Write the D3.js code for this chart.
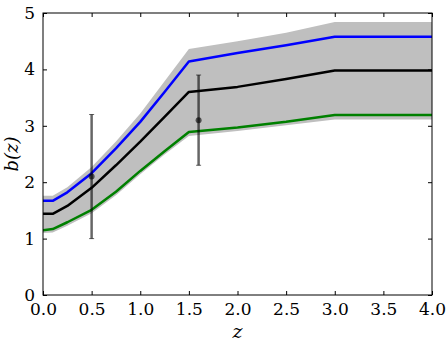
<!DOCTYPE html>
<html>
<head>
<meta charset="utf-8">
<script src="https://cdn.jsdelivr.net/npm/d3@7"></script>
<style>
  body { margin: 0; background: #fff; }
</style>
</head>
<body>
<div id="chart"></div>
<script>
// redshift samples
const zs = [0, 0.1, 0.25, 0.5, 0.75, 1.0, 1.25, 1.5, 2.0, 2.5, 3.0, 4.0];
const bMid = [1.44, 1.44, 1.58, 1.90, 2.30, 2.72, 3.16, 3.60, 3.69, 3.83, 3.98, 3.98];
const bHigh = [1.67, 1.67, 1.82, 2.16, 2.60, 3.07, 3.60, 4.14, 4.29, 4.43, 4.58, 4.58];
const bLow = [1.15, 1.17, 1.29, 1.51, 1.83, 2.20, 2.55, 2.89, 2.97, 3.07, 3.19, 3.19];
const bandTop = [1.76, 1.76, 1.91, 2.27, 2.72, 3.22, 3.79, 4.36, 4.50, 4.65, 4.84, 4.84];
const bandBot = [1.10, 1.11, 1.23, 1.45, 1.77, 2.14, 2.49, 2.82, 2.91, 3.01, 3.11, 3.11];

// measurements with error bars
const obsZ = [0.5, 1.6];
const obsB = [2.1, 3.1];
const obsLo = [1.0, 2.3];
const obsHi = [3.2, 3.9];

const xTicks = [0, 0.5, 1.0, 1.5, 2.0, 2.5, 3.0, 3.5, 4.0];
const yTicks = [0, 1, 2, 3, 4, 5];

const FONT = "DejaVu Serif";

const W = 447, H = 342;
const margin = {top: 13, right: 15, bottom: 47, left: 43};
const width = W - margin.left - margin.right;
const height = H - margin.top - margin.bottom;

const svg = d3.select("#chart").append("svg")
  .attr("width", W)
  .attr("height", H);

const g = svg.append("g")
  .attr("transform", "translate(" + margin.left + "," + margin.top + ")");

const x = d3.scaleLinear().domain([0, 4]).range([0, width]);
const y = d3.scaleLinear().domain([0, 5]).range([height, 0]);

const idx = d3.range(zs.length);

g.append("clipPath").attr("id", "clip")
  .append("rect").attr("width", width).attr("height", height);

const plot = g.append("g").attr("clip-path", "url(#clip)");

// grey band
plot.append("path")
  .attr("fill", "#bfbfbf")
  .attr("d", d3.area()
    .x(i => x(zs[i]))
    .y0(i => y(bandBot[i]))
    .y1(i => y(bandTop[i]))(idx));

const line = arr => d3.line()
  .x(i => x(zs[i]))
  .y(i => y(arr[i]))(idx);

[[bHigh, "#0000ff"], [bLow, "#008000"], [bMid, "#000000"]].forEach(([arr, c]) => {
  plot.append("path")
    .attr("fill", "none")
    .attr("stroke", c)
    .attr("stroke-width", 2.5)
    .attr("stroke-linejoin", "round")
    .attr("d", line(arr));
});

// error bars
const eb = plot.append("g")
  .attr("stroke", "#000")
  .attr("stroke-opacity", 0.6)
  .attr("fill", "#000")
  .attr("fill-opacity", 0.6);

obsZ.forEach((zv, i) => {
  eb.append("line")
    .attr("x1", x(zv)).attr("x2", x(zv))
    .attr("y1", y(obsLo[i])).attr("y2", y(obsHi[i]))
    .attr("stroke-width", 2.5);
  [obsLo[i], obsHi[i]].forEach(v => {
    eb.append("line")
      .attr("x1", x(zv) - 2.5).attr("x2", x(zv) + 2.5)
      .attr("y1", y(v)).attr("y2", y(v))
      .attr("stroke-width", 1);
  });
  eb.append("circle")
    .attr("cx", x(zv)).attr("cy", y(obsB[i]))
    .attr("r", 3)
    .attr("stroke", "none");
});

// axes, ticks pointing in on every side
const fmt = d3.format(".1f");
g.append("g")
  .attr("transform", "translate(0," + height + ")")
  .call(d3.axisBottom(x).tickValues(xTicks).tickFormat(fmt).tickSizeInner(-4).tickSizeOuter(0).tickPadding(8))
  .attr("font-family", FONT)
  .attr("font-size", 17)
  .call(a => a.select(".domain").remove());

g.append("g")
  .call(d3.axisTop(x).tickValues(xTicks).tickFormat("").tickSizeInner(-4).tickSizeOuter(0))
  .call(a => a.select(".domain").remove());

g.append("g")
  .call(d3.axisLeft(y).tickValues(yTicks).tickFormat(d3.format("d")).tickSizeInner(-4).tickSizeOuter(0).tickPadding(8))
  .attr("font-family", FONT)
  .attr("font-size", 17)
  .call(a => a.select(".domain").remove());

g.append("g")
  .attr("transform", "translate(" + width + ",0)")
  .call(d3.axisRight(y).tickValues(yTicks).tickFormat("").tickSizeInner(-4).tickSizeOuter(0))
  .call(a => a.select(".domain").remove());

g.append("rect")
  .attr("width", width).attr("height", height)
  .attr("fill", "none").attr("stroke", "#000").attr("stroke-width", 1);

// axis labels
svg.append("text")
  .attr("x", margin.left + width / 2)
  .attr("y", 338)
  .attr("text-anchor", "middle")
  .attr("font-family", FONT)
  .attr("font-size", 19)
  .attr("font-style", "italic")
  .text("z");

svg.append("text")
  .attr("transform", "translate(18," + (margin.top + height / 2) + ") rotate(-90)")
  .attr("text-anchor", "middle")
  .attr("font-family", FONT)
  .attr("font-size", 18)
  .attr("font-style", "italic")
  .text("b(z)");
</script>
</body>
</html>
